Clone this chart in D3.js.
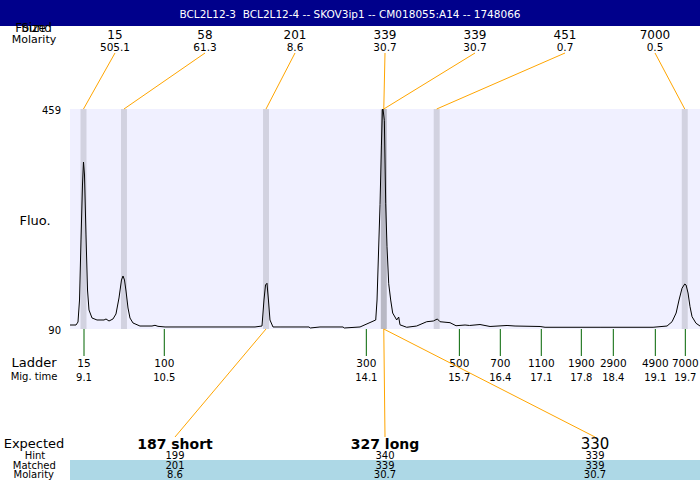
<!DOCTYPE html>
<html>
<head>
<meta charset="utf-8">
<script src="https://cdn.jsdelivr.net/npm/d3@7"></script>
<style>
  html, body { margin: 0; padding: 0; background: #fff; }
  svg { display: block; font-family: "DejaVu Sans", sans-serif; }
  text { white-space: pre; }
</style>
</head>
<body>
<svg id="chart" width="700" height="480"></svg>
<script>
// ---------- data ----------
const title = "BCL2L12-3  BCL2L12-4 -- SKOV3ip1 -- CM018055:A14 -- 1748066";

// electropherogram trace: migration time (min) and fluorescence
const traceTime = [8.853, 8.959, 8.994, 9.021, 9.047, 9.073, 9.091, 9.109, 9.135, 9.162, 9.188, 9.241, 9.329, 9.453, 9.488, 9.541, 9.611, 9.664, 9.717, 9.761, 9.788, 9.814, 9.841, 9.876, 9.911, 9.964, 10.087, 10.299, 10.352, 10.405, 10.529, 11.146, 11.675, 12.116, 12.239, 12.274, 12.301, 12.327, 12.353, 12.380, 12.433, 12.557, 13.068, 13.090, 13.262, 13.668, 13.690, 13.968, 14.245, 14.268, 14.321, 14.345, 14.362, 14.373, 14.397, 14.421, 14.444, 14.474, 14.509, 14.544, 14.615, 14.650, 14.673, 14.791, 14.967, 15.144, 15.261, 15.332, 15.379, 15.555, 15.661, 15.820, 15.900, 16.084, 16.261, 16.561, 16.702, 17.143, 17.231, 18.201, 19.136, 19.383, 19.471, 19.543, 19.594, 19.647, 19.695, 19.718, 19.753, 19.788, 19.824, 19.894, 19.964];
const traceFluo = [96.7, 96.7, 101.7, 138.6, 239.3, 331.5, 370.1, 348.3, 247.7, 155.4, 121.9, 108.5, 105.1, 105.1, 106.8, 103.4, 106.8, 115.2, 142.0, 172.2, 178.9, 172.2, 153.7, 125.2, 108.4, 100.1, 95.0, 95.0, 96.2, 94.5, 93.4, 93.4, 93.4, 93.4, 95.0, 138.6, 163.8, 166.7, 138.6, 105.1, 93.4, 93.4, 93.4, 91.7, 93.4, 93.4, 91.7, 93.4, 105.1, 138.6, 299.0, 397.0, 457.3, 459.0, 440.0, 300.0, 228.0, 166.0, 138.6, 116.8, 105.1, 110.1, 97.0, 92.9, 95.0, 102.2, 103.4, 106.8, 102.2, 100.6, 95.5, 96.7, 95.9, 97.5, 94.2, 95.9, 95.0, 94.2, 92.9, 92.9, 92.9, 95.0, 102.2, 116.8, 138.6, 158.3, 165.5, 163.8, 150.4, 127.4, 110.6, 99.6, 95.0];

const fluoMin = 90, fluoMax = 459;

// ladder
const ladderSizes = ["15", "100", "300", "500", "700", "1100", "1900", "2900", "4900", "7000"];
const ladderTimes = [9.1, 10.516, 14.079, 15.72, 16.442, 17.165, 17.871, 18.435, 19.176, 19.705];
const ladderTimeLabels = ["9.1", "10.5", "14.1", "15.7", "16.4", "17.1", "17.8", "18.4", "19.1", "19.7"];

// found peaks
const foundSizes = ["15", "58", "201", "339", "339", "451", "7000"];
const foundMolarity = ["505.1", "61.3", "8.6", "30.7", "30.7", "0.7", "0.5"];
const foundTimes = [9.091, 9.805, 12.31, 14.387, 14.387, 15.32, 19.695];

// expected products
const expectedLabels = ["187 short", "327 long", "330"];
const expectedBold = [true, true, false];
const hintValues = ["199", "340", "339"];
const matchedValues = ["201", "339", "339"];
const matchedMolarity = ["8.6", "30.7", "30.7"];
const matchedPeak = [2, 3, 4];

// ---------- layout ----------
const W = 700, H = 480;
const plot = { left: 70, right: 700, top: 109, bottom: 329 };
const svg = d3.select("#chart");

const x = d3.scaleLinear().domain([8.853, 19.964]).range([plot.left, plot.right]);
const y = d3.scaleLinear().domain([fluoMin, fluoMax]).range([plot.bottom, plot.top]);

// header
svg.append("rect").attr("x", 0).attr("y", 0).attr("width", W).attr("height", 26).attr("fill", "#00008b");
svg.append("text").attr("x", 350).attr("y", 17.5).attr("text-anchor", "middle")
  .attr("font-size", 10.5).attr("fill", "#fff").text(title);

// plot background
svg.append("rect").attr("x", plot.left).attr("y", plot.top)
  .attr("width", plot.right - plot.left).attr("height", plot.bottom - plot.top)
  .attr("fill", "#f0f0ff");

// peak bands
svg.append("g").selectAll("rect").data(foundTimes).join("rect")
  .attr("x", d => x(d) - 3).attr("y", plot.top).attr("width", 6)
  .attr("height", plot.bottom - plot.top).attr("fill", "#000").attr("fill-opacity", 0.12);

// trace
const clip = svg.append("clipPath").attr("id", "clip").append("rect")
  .attr("x", plot.left).attr("y", plot.top - 1).attr("width", plot.right - plot.left).attr("height", plot.bottom - plot.top + 2);
const line = d3.line().x(d => x(d[0])).y(d => y(d[1]));
svg.append("path").datum(d3.zip(traceTime, traceFluo))
  .attr("d", line).attr("fill", "none").attr("stroke", "#000").attr("stroke-width", 1)
  .attr("clip-path", "url(#clip)");

// y labels
const yAxis = svg.append("g").attr("font-size", 10).attr("text-anchor", "end");
[fluoMax, fluoMin].forEach(v => {
  yAxis.append("text").attr("x", 61).attr("y", y(v) + 4.5).text(v);
});
svg.append("text").attr("x", 35).attr("y", 224.5).attr("text-anchor", "middle").attr("font-size", 13).text("Fluo.");

// top labels
svg.append("text").attr("x", 33.5).attr("y", 32).attr("text-anchor", "middle").attr("font-size", 12).text("Found");
svg.append("text").attr("x", 33.5).attr("y", 32).attr("text-anchor", "middle").attr("font-size", 12).text("Size");
svg.append("text").attr("x", 34).attr("y", 42.5).attr("text-anchor", "middle").attr("font-size", 11).text("Molarity");

const topStep = (plot.right - plot.left) / foundSizes.length;
const topX = i => plot.left + (i + 0.5) * topStep;
const topG = svg.append("g").attr("text-anchor", "middle");
foundSizes.forEach((s, i) => {
  topG.append("text").attr("x", topX(i)).attr("y", 39).attr("font-size", 12).text(s);
  topG.append("text").attr("x", topX(i)).attr("y", 51).attr("font-size", 10.5).text(foundMolarity[i]);
  svg.append("line").attr("x1", topX(i)).attr("y1", 53).attr("x2", x(foundTimes[i])).attr("y2", plot.top)
    .attr("stroke", "orange").attr("stroke-width", 1);
});

// ladder
svg.append("text").attr("x", 34).attr("y", 367).attr("text-anchor", "middle").attr("font-size", 13).text("Ladder");
svg.append("text").attr("x", 34).attr("y", 380).attr("text-anchor", "middle").attr("font-size", 10).text("Mig. time");
const lg = svg.append("g").attr("text-anchor", "middle");
ladderTimes.forEach((t, i) => {
  lg.append("line").attr("x1", x(t)).attr("x2", x(t)).attr("y1", plot.bottom).attr("y2", 356)
    .attr("stroke", "#006400").attr("stroke-width", 1);
  lg.append("text").attr("x", x(t)).attr("y", 367).attr("font-size", 10.5).text(ladderSizes[i]);
  lg.append("text").attr("x", x(t)).attr("y", 381).attr("font-size", 10).text(ladderTimeLabels[i]);
});

// bottom table
svg.append("rect").attr("x", plot.left).attr("y", 460).attr("width", plot.right - plot.left).attr("height", 20).attr("fill", "#add8e6");
svg.append("text").attr("x", 34).attr("y", 448).attr("text-anchor", "middle").attr("font-size", 13).text("Expected");
svg.append("text").attr("x", 35).attr("y", 459).attr("text-anchor", "middle").attr("font-size", 10).text("Hint");
svg.append("text").attr("x", 34.3).attr("y", 469).attr("text-anchor", "middle").attr("font-size", 10).text("Matched");
svg.append("text").attr("x", 33.8).attr("y", 478).attr("text-anchor", "middle").attr("font-size", 10).text("Molarity");

const expStep = (plot.right - plot.left) / expectedLabels.length;
const expX = i => plot.left + (i + 0.5) * expStep;
const eg = svg.append("g").attr("text-anchor", "middle");
expectedLabels.forEach((lab, i) => {
  svg.append("line").attr("x1", x(foundTimes[matchedPeak[i]])).attr("y1", plot.bottom)
    .attr("x2", expX(i)).attr("y2", 437).attr("stroke", "orange").attr("stroke-width", 1);
  eg.append("text").attr("x", expX(i)).attr("y", 449)
    .attr("font-size", expectedBold[i] ? 14 : 15).attr("font-weight", expectedBold[i] ? "bold" : "normal").text(lab);
  eg.append("text").attr("x", expX(i)).attr("y", 459).attr("font-size", 10).text(hintValues[i]);
  eg.append("text").attr("x", expX(i)).attr("y", 469).attr("font-size", 10).text(matchedValues[i]);
  eg.append("text").attr("x", expX(i)).attr("y", 478).attr("font-size", 10).text(matchedMolarity[i]);
});
</script>
</body>
</html>
